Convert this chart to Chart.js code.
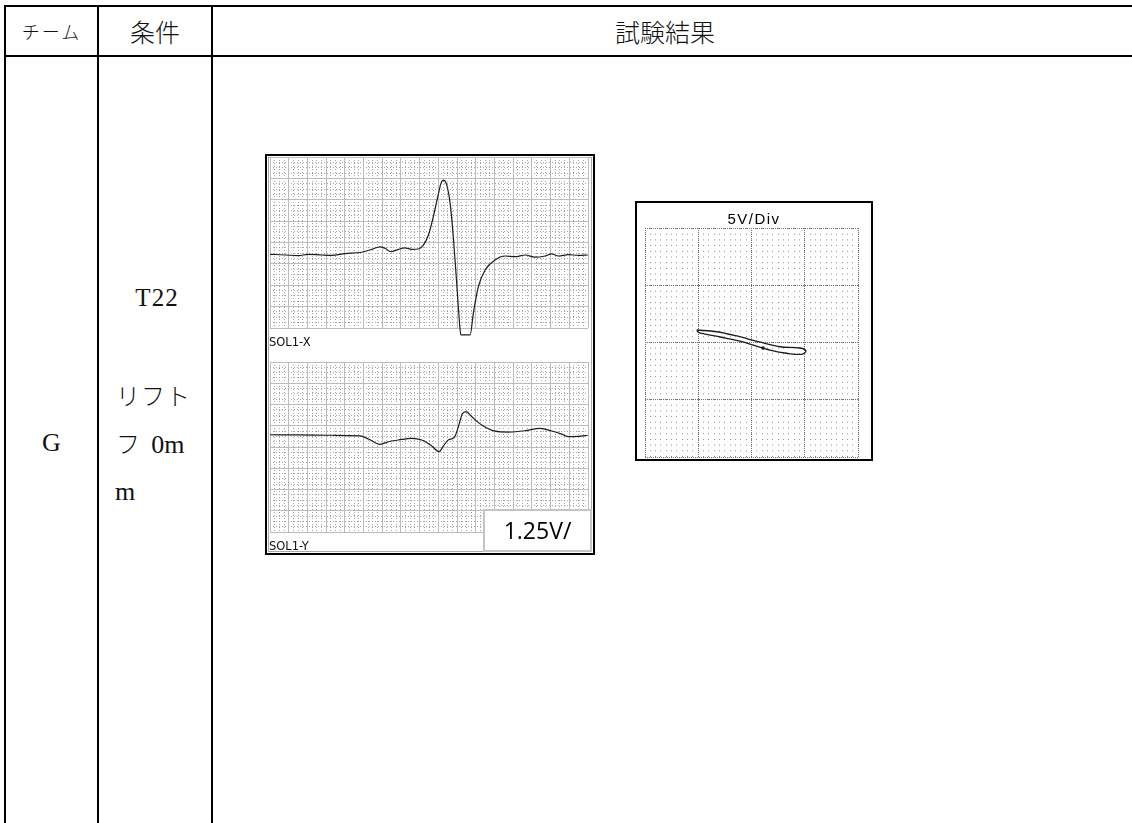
<!DOCTYPE html>
<html lang="ja">
<head>
<meta charset="utf-8">
<script src="https://cdn.jsdelivr.net/npm/chart.js@4.4.1/dist/chart.umd.min.js"></script>
<style>
  html, body { margin: 0; padding: 0; background: #fff; }
  #page { position: relative; width: 1132px; height: 823px; overflow: hidden; }
  .ln { position: absolute; background: #000; }
  .txt { position: absolute; white-space: nowrap; color: #111; }
  .jp { font-family: "Noto Sans CJK JP", sans-serif; font-weight: 300; }
  .serif { font-family: "Liberation Serif", "Noto Sans CJK JP", serif; }
  .mono { font-family: "DejaVu Sans", sans-serif; }
  canvas { position: absolute; }
  .box { position: absolute; box-sizing: border-box; }
</style>
</head>
<body>
<div id="page">
  <!-- table rules -->
  <div class="ln" style="left:4px;top:5px;width:1128px;height:2px"></div>
  <div class="ln" style="left:4px;top:55px;width:1128px;height:2px"></div>
  <div class="ln" style="left:4px;top:5px;width:2px;height:818px"></div>
  <div class="ln" style="left:97px;top:5px;width:2px;height:818px"></div>
  <div class="ln" style="left:211px;top:5px;width:2px;height:818px"></div>

  <!-- header -->
  <div class="txt jp" style="left:6px;width:91px;top:18px;line-height:26px;font-size:18px;text-align:center;letter-spacing:2px">チーム</div>
  <div class="txt jp" style="left:99px;width:112px;top:16px;line-height:30px;font-size:25px;text-align:center">条件</div>
  <div class="txt jp" style="left:213px;width:904px;top:16px;line-height:30px;font-size:25px;text-align:center">試験結果</div>

  <!-- body cells -->
  <div class="txt serif" style="left:6px;width:91px;top:428px;line-height:30px;font-size:26px;text-align:center">G</div>
  <div class="txt serif" style="left:99px;width:116px;top:283px;line-height:30px;font-size:25px;text-align:center;letter-spacing:1px">T22</div>
  <div class="txt jp" style="left:116px;top:380px;line-height:30px;font-size:24px;letter-spacing:1px">リフト</div>
  <div class="txt jp" style="left:116px;top:428px;line-height:30px;font-size:24px;word-spacing:6px">フ <span class="serif" style="font-size:26px">0m</span></div>
  <div class="txt serif" style="left:115px;top:477px;line-height:30px;font-size:26px">m</div>

  <!-- panels -->
  <div class="box" style="left:265px;top:154px;width:330px;height:401px;border:2px solid #000;box-shadow:inset 0 0 0 1px #fff, inset 0 0 0 2px #a8a8a8"></div>
  <div class="box" style="left:635px;top:201px;width:238px;height:260px;border:2px solid #000"></div>

  <canvas id="solX" width="322" height="190" style="left:268px;top:155px"></canvas>
  <canvas id="solY" width="322" height="174" style="left:268px;top:360px"></canvas>
  <canvas id="liss" width="217" height="233" style="left:643px;top:226px"></canvas>

  <div class="txt mono" style="left:269px;top:335px;line-height:14px;font-size:11.5px">SOL1-X</div>
  <div class="txt mono" style="left:269px;top:539px;line-height:14px;font-size:11.5px">SOL1-Y</div>
  <div class="box" style="left:483px;top:509px;width:109px;height:43px;border:2px solid #c4c4c4;background:#fff"></div>
  <div class="txt" style="left:483px;width:109px;top:515px;line-height:30px;font-size:23px;text-align:center;font-family:'Open Sans',sans-serif;color:#000">1.25V/</div>
  <div class="txt" style="left:635px;width:238px;top:209px;line-height:20px;font-size:15px;text-align:center;font-family:'Liberation Sans',sans-serif;letter-spacing:1.5px;color:#000">5V/Div</div>
</div>

<script>
"use strict";

// time axis in divisions, 17 divisions across the screen
const TIME_DIVS = 17;
const SOL_V_PER_DIV = 1.25;
const LISS_V_PER_DIV = 5;

// SOL1-X trace (V)
const solXTime = [0, 0.80, 1.51, 2.05, 2.76, 3.30, 4.01, 4.90, 5.44, 5.88, 6.15, 6.47, 6.86, 7.22, 7.58, 7.93,
  8.20, 8.47, 8.73, 8.97, 9.14, 9.27, 9.45, 9.63, 9.80, 9.98, 10.12, 10.20, 10.70, 10.87, 11.14, 11.50,
  12.03, 12.57, 13.10, 13.64, 14.17, 14.71, 15.06, 15.42, 15.95, 16.49, 16.99];
const solXVolts = [-0.69, -0.73, -0.77, -0.69, -0.73, -0.75, -0.65, -0.57, -0.40, -0.25, -0.34, -0.54, -0.40, -0.32, -0.40, -0.38,
  -0.15, 0.44, 1.51, 2.68, 3.46, 3.65, 3.36, 2.29, 0.34, -2.38, -4.53, -5.40, -5.40, -4.14, -2.58, -1.61,
  -1.02, -0.79, -0.83, -0.73, -0.86, -0.79, -0.67, -0.79, -0.71, -0.75, -0.73];

// SOL1-Y trace (V)
const solYTime = [0, 1.51, 3.30, 4.81, 5.26, 5.88, 6.33, 6.86, 7.58, 8.11, 8.65, 9.04, 9.27, 9.53, 9.86,
  10.07, 10.28, 10.48, 10.79, 11.32, 12.03, 12.74, 13.64, 14.44, 15.06, 15.60, 15.95, 16.49, 16.99];
const solYVolts = [0.72, 0.71, 0.69, 0.66, 0.47, 0.16, 0.31, 0.41, 0.51, 0.41, 0.06, -0.28, 0.06, 0.41, 0.57,
  1.19, 1.94, 2.08, 1.78, 1.29, 0.93, 0.88, 0.96, 1.10, 0.94, 0.76, 0.61, 0.63, 0.69];

// X-Y loop (V)
const lissX = [-5.14, -3.26, -1.39, 0.64, 2.67, 4.55, 5.11, 4.71, 3.30, 1.74, 0.33, -1.08, -2.95, -4.36, -4.99, -5.14];
const lissY = [1.09, 0.94, 0.57, 0.07, -0.37, -0.48, -0.74, -1.03, -0.94, -0.66, -0.28, 0.13, 0.48, 0.74, 0.89, 1.09];
const markX = [1.08];
const markY = [-0.48];

function gridScale(pos, min, max, step, color, dash, show = true) {
  return {
    type: 'linear',
    position: pos,
    min: min,
    max: max,
    ticks: { display: false, stepSize: step },
    grid: { display: show, color: color, lineWidth: 1, drawTicks: false },
    border: { display: false, dash: dash }
  };
}

function points(xs, ys) {
  return xs.map((x, i) => ({ x: x, y: ys[i] }));
}

const baseOptions = (padding, scales) => ({
  responsive: false,
  animation: false,
  events: [],
  layout: { autoPadding: false, padding: padding },
  plugins: { legend: { display: false }, tooltip: { enabled: false } },
  scales: scales
});

function traceChart(id, times, volts, padding) {
  const vMax = SOL_V_PER_DIV * 4;
  return new Chart(document.getElementById(id), {
    type: 'line',
    data: {
      datasets: [{
        data: points(times, volts),
        xAxisID: 'x',
        yAxisID: 'y',
        borderColor: '#1c1c1c',
        borderWidth: 1.2,
        pointRadius: 0,
        cubicInterpolationMode: 'monotone',
        clip: 12
      }]
    },
    options: baseOptions(padding, {
      xMinor: gridScale('bottom', 0, TIME_DIVS, 0.25, '#a6a6a6', [1, 2]),
      yMinor: gridScale('left', -vMax, vMax, SOL_V_PER_DIV / 4, '#a6a6a6', [1, 2]),
      x: gridScale('bottom', 0, TIME_DIVS, 1, '#bcbcbc', []),
      y: gridScale('left', -vMax, vMax, SOL_V_PER_DIV, '#bcbcbc', [])
    })
  });
}

traceChart('solX', solXTime, solXVolts, { left: 2, right: 2, top: 2, bottom: 17 });
traceChart('solY', solYTime, solYVolts, { left: 2, right: 2, top: 2, bottom: 2 });

const lMax = LISS_V_PER_DIV * 2;
new Chart(document.getElementById('liss'), {
  type: 'scatter',
  data: {
    datasets: [
      {
        data: points(lissX, lissY),
        xAxisID: 'x',
        yAxisID: 'y',
        showLine: true,
        borderColor: '#1c1c1c',
        borderWidth: 1.3,
        pointRadius: 0,
        tension: 0.35
      },
      {
        data: points(markX, markY),
        xAxisID: 'x',
        yAxisID: 'y',
        pointRadius: 1.8,
        backgroundColor: '#1c1c1c',
        borderWidth: 0
      }
    ]
  },
  options: baseOptions({ left: 2, right: 2, top: 2, bottom: 2 }, {
    xMinor: gridScale('bottom', -lMax, lMax, LISS_V_PER_DIV / 10, '#8c8c8c', [1, 4.7]),
    yMinor: gridScale('left', -lMax, lMax, LISS_V_PER_DIV / 10, '#8c8c8c', [], false),
    x: gridScale('bottom', -lMax, lMax, LISS_V_PER_DIV, '#6e6e6e', [1, 1]),
    y: gridScale('left', -lMax, lMax, LISS_V_PER_DIV, '#6e6e6e', [1, 1])
  })
});
</script>
</body>
</html>
